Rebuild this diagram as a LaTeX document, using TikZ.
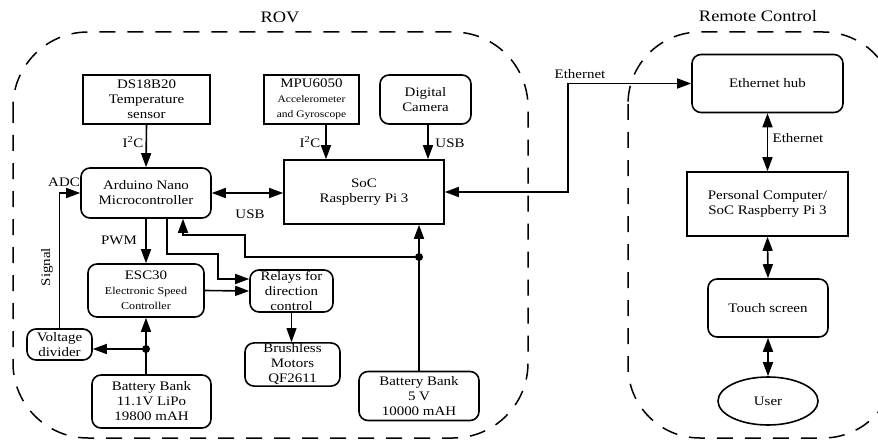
\documentclass[tikz,border=0pt]{standalone}
\usepackage{fontspec}
\setmainfont{Liberation Serif}[FakeStretch=1.15]
\usetikzlibrary{arrows.meta,shapes.geometric}
\newcommand\mainsz{\fontsize{13}{15}\selectfont}
\newcommand\smallsz{\fontsize{10}{12}\selectfont}
\newcommand\titlesz{\fontsize{16}{18}\selectfont}
\begin{document}
\begin{tikzpicture}[x=1pt,y=-1pt,
  box/.style={draw, line width=1.6pt, align=center, inner sep=1pt, font=\mainsz},
  rbox/.style={box, rounded corners=9pt},
  arr/.style={line width=1.6pt, -{Triangle[length=14pt,width=10pt]}},
  darr/.style={line width=1.6pt, {Triangle[length=14pt,width=10pt]}-{Triangle[length=14pt,width=10pt]}},
  lbl/.style={font=\mainsz, inner sep=0pt},
  jdot/.style={circle, fill, inner sep=0pt, minimum size=8pt},
  dashbox/.style={dash pattern=on 16pt off 12pt, line width=1.5pt}]
\useasboundingbox (0,0) rectangle (878,441);
\clip (0,0) rectangle (878,441);

% group frames
\draw[dashbox, rounded corners=75pt] (13,32) rectangle (528,438);
\draw[dashbox, rounded corners=72pt] (628,32) rectangle (895,438);
\node[lbl, font=\titlesz] (trov) at (280,17) {ROV};
\node[lbl, font=\titlesz] (trc) at (758,16) {Remote Control};

% ROV nodes
\node[box, minimum width=127pt, minimum height=49pt] (ds) at (146.5,99.5) {DS18B20\\Temperature\\sensor};
\node[box, minimum width=95pt, minimum height=49pt] (mpu) at (311.5,99.5) {MPU6050\\{\smallsz Accelerometer}\\{\smallsz and Gyroscope}};
\node[rbox, minimum width=91pt, minimum height=49pt] (cam) at (425.5,99.5) {Digital\\Camera};
\node[rbox, minimum width=130pt, minimum height=50pt] (ard) at (146,193) {Arduino Nano\\Microcontroller};
\node[box, minimum width=160pt, minimum height=64pt] (soc) at (364,192) {SoC\\Raspberry Pi 3};
\node[rbox, minimum width=116pt, minimum height=53pt] (esc) at (146,290.5) {ESC30\\{\fontsize{10.5}{12}\selectfont Electronic Speed}\\{\fontsize{10.5}{12}\selectfont Controller}};
\node[rbox, minimum width=83pt, minimum height=42pt] (rel) at (291.5,291) {Relays for\\direction\\control};
\node[rbox, minimum width=65pt, minimum height=31pt] (vd) at (59.5,344.5) {Voltage\\divider};
\node[rbox, minimum width=95pt, minimum height=43pt] (mot) at (292.5,364.5) {Brushless\\Motors\\QF2611};
\node[rbox, minimum width=119pt, minimum height=53pt] (bb1) at (151.5,401.5) {Battery Bank\\11.1V LiPo\\19800 mAH};
\node[rbox, minimum width=120pt, minimum height=49pt] (bb2) at (419,396) {Battery Bank\\5 V\\10000 mAH};

% Remote control nodes
\node[rbox, minimum width=151pt, minimum height=58pt] (hub) at (767.5,83.5) {Ethernet hub};
\node[box, minimum width=161pt, minimum height=64pt] (pc) at (767.5,204) {Personal Computer/\\SoC Raspberry Pi 3};
\node[rbox, minimum width=120pt, minimum height=58pt] (ts) at (768,308) {Touch screen};
\node[box, ellipse, minimum width=100pt, minimum height=48pt] (user) at (768,401) {User};

% junctions / bends
\coordinate (j1) at (146,349);
\coordinate (j2) at (419,257);
\coordinate (eth) at (568,83.5);

% ROV connectors
\draw[arr] (ds.south) -- (ard.north);
\node[lbl] (i2c1) at (133,142) {I\textsuperscript{2}C};
\draw[arr] ([xshift=14.5pt]mpu.south) -- ([xshift=14.5pt]mpu.south |- soc.north);
\node[lbl] (i2c2) at (310,142) {I\textsuperscript{2}C};
\draw[arr] ([xshift=2.5pt]cam.south) -- ([xshift=2.5pt]cam.south |- soc.north);
\node[lbl] (usb1) at (450,143) {USB};
\draw[darr] (ard.east) -- (ard.east -| soc.west);
\node[lbl] (usb2) at (250,214) {USB};
\draw[arr] (vd.north) |- (ard.west);
\node[lbl] (adc) at (64,182) {ADC};
\node[lbl, rotate=90] (sig) at (47,267) {Signal};
\draw[arr] (ard.south) -- (esc.north);
\node[lbl] (pwm) at (119,240) {PWM};
\draw[arr] ([xshift=21pt]ard.south) -- ++(0,35) -| (218,279) -- ([yshift=12pt]rel.west);
\draw[arr] (esc.east) -- (rel.west);
\draw[arr, line width=0.8pt] (rel.south) -- (rel.south |- mot.north);
\draw[arr] (bb1.north -| j1) -- (esc.south);
\draw[arr] (j1) -- ([yshift=-4.5pt]vd.east);
\node[jdot] (d1) at (j1) {};
\draw[arr] (bb2.north) -- (soc.south -| bb2.north);
\draw[arr] (j2) -- (245,257) -- (245,235) -| ([xshift=37pt]ard.south);
\node[jdot] (d2) at (j2) {};

% Ethernet link
\draw[darr] (soc.east) -| (eth) -- (hub.west);
\node[lbl] (eth1) at (580,74) {Ethernet};

% Remote connectors
\draw[darr] (hub.south) -- (pc.north);
\node[lbl] (eth2) at (798,138) {Ethernet};
\draw[darr] (pc.south) -- (ts.north);
\draw[darr] (ts.south) -- (user.north);
\end{tikzpicture}
\end{document}
